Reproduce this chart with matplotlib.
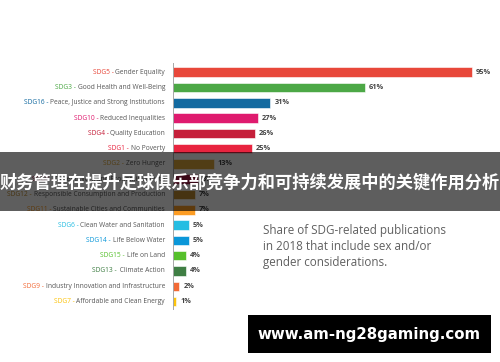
import matplotlib.pyplot as plt
from matplotlib.patches import Rectangle

codes = ['SDG5', 'SDG3', 'SDG16', 'SDG10', 'SDG4', 'SDG1', 'SDG2', 'SDG8',
         'SDG12', 'SDG11', 'SDG6', 'SDG14', 'SDG15', 'SDG13', 'SDG9', 'SDG7']
names = ['Gender Equality', 'Good Health and Well-Being',
         'Peace, Justice and Strong Institutions', 'Reduced Inequalities',
         'Quality Education', 'No Poverty', 'Zero Hunger',
         'Decent Work and Economic Growth',
         'Responsible Consumption and Production',
         'Sustainable Cities and Communities', 'Clean Water and Sanitation',
         'Life Below Water', 'Life on Land', ' Climate Action',
         'Industry Innovation and Infrastructure',
         'Affordable and Clean Energy']
shares = [95, 61, 31, 27, 26, 25, 13, 8, 7, 7, 5, 5, 4, 4, 2, 1]
colors = ['#E8473A', '#4CA846', '#136AA0', '#DF1A6E', '#C51F3A', '#E8243F',
          '#DDA63A', '#A21942', '#BF8B2E', '#FD9D24', '#26BDE2', '#0A97D9',
          '#56C02B', '#3F7E44', '#F26A36', '#FCC30B']

title_cn = '财务管理在提升足球俱乐部竞争力和可持续发展中的关键作用分析'
note = 'Share of SDG-related publications\nin 2018 that include sex and/or\ngender considerations.'
site = 'www.am-ng28gaming.com'

W, H = 500, 362
fig = plt.figure(figsize=(W / 100, H / 100), dpi=100)
fig.patch.set_facecolor('white')

# axes: left spine at x=173px, rows from y=63 to 310px
ax = fig.add_axes([173 / W, (H - 310) / H, (W - 173) / W, (310 - 63) / H])
px_per_pct = 3.144
ax.set_xlim(0, (W - 173) / px_per_pct)
ax.set_ylim(15.55, -0.6)
ax.axis('off')
ax.axvline(0, color='#a0a0a0', lw=1.3, zorder=3)

ypos = list(range(len(shares)))
ax.barh(ypos, shares, height=0.62, color=colors, edgecolor='white', lw=0.4)

for y, v in zip(ypos, shares):
    ax.text(v + 1.3, y, f'{v}%', va='center', ha='left', fontsize=5.3,
            color='#444444', fontweight='bold', family='Open Sans')

label_x = -8 / px_per_pct
for y, c, n, col in zip(ypos, codes, names, colors):
    t = ax.text(label_x, y, n, ha='right', va='center', fontsize=4.8,
                color='#555555', family='Open Sans')
    ax.annotate(c + ' - ', xy=(0, 0), xycoords=t, ha='right', va='bottom',
                fontsize=4.8, color=col, family='Open Sans')

# note text
fig.text(263 / W, (H - 224) / H, note, ha='left', va='top', fontsize=8.4,
         color='#606060', family='Open Sans', linespacing=1.3)

# dark overlay band with Chinese title
fig.patches.append(Rectangle((0, (H - 211) / H), 1, (211 - 152) / H,
                             transform=fig.transFigure, facecolor='black',
                             alpha=0.63, zorder=10))
fig.text(0.5, (H - 183) / H, title_cn, ha='center', va='center',
         fontsize=12.4, fontweight='bold', color='white',
         family=['Noto Sans CJK SC', 'DejaVu Sans'], zorder=11)

# black site box
fig.patches.append(Rectangle((248 / W, (H - 353) / H), (491 - 248) / W,
                             (353 - 315) / H, transform=fig.transFigure,
                             facecolor='black', zorder=10))
fig.text(369.5 / W, (H - 334) / H, site, ha='center', va='center',
         fontsize=10.8, fontweight='bold', color='white',
         family='DejaVu Sans', zorder=11)

fig.savefig('out.png', dpi=100)
